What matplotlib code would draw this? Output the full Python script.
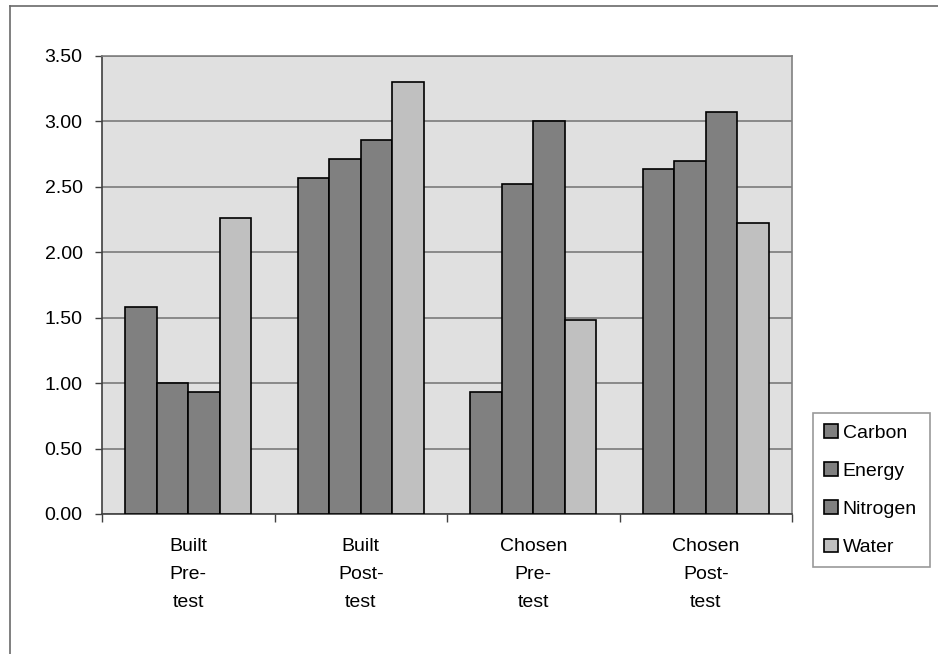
import matplotlib.pyplot as plt
import numpy as np

plt.rcParams['font.family'] = ['Liberation Sans', 'DejaVu Sans']

groups = ["Built\nPre-\ntest", "Built\nPost-\ntest", "Chosen\nPre-\ntest", "Chosen\nPost-\ntest"]
series = ["Carbon", "Energy", "Nitrogen", "Water"]
carbon = [1.58, 2.57, 0.93, 2.64]
energy = [1.00, 2.71, 2.52, 2.70]
nitrogen = [0.93, 2.86, 3.00, 3.07]
water = [2.26, 3.30, 1.48, 2.22]
yticks = [0.0, 0.5, 1.0, 1.5, 2.0, 2.5, 3.0, 3.5]

colors = ['#808080', '#808080', '#808080', '#c0c0c0']
fs = 14

fig = plt.figure(figsize=(9.38, 6.54), dpi=100)
# outer chart frame (only top and left edge visible)
fig.add_artist(plt.Line2D([10/938, 10/938], [0, 1-6/654], color='#6a6a6a', lw=1.2))
fig.add_artist(plt.Line2D([10/938, 1], [1-6/654, 1-6/654], color='#6a6a6a', lw=1.2))

ax = fig.add_axes([102/938, 140/654, 690/938, 458/654])
ax.set_facecolor('#e0e0e0')

x = np.arange(len(groups)) + 0.5
w = 0.182
for i, (name, vals) in enumerate(zip(series, [carbon, energy, nitrogen, water])):
    ax.bar(x + (i - 1.5) * w, vals, w, color=colors[i], edgecolor='black',
           linewidth=1.2, label=name, zorder=3)

ax.set_xlim(0, 4)
ax.set_ylim(0, 3.5)
ax.set_yticks(yticks)
ax.set_yticklabels(["%.2f" % t for t in yticks], fontsize=fs)
ax.yaxis.grid(True, color='#7a7a7a', linewidth=1.2, zorder=1)
ax.set_axisbelow(True)

ax.set_xticks([0, 1, 2, 3, 4])
ax.set_xticklabels([])
ax.set_xticks(x, minor=True)
ax.set_xticklabels(groups, minor=True, fontsize=fs, linespacing=1.88, va='top')
ax.tick_params(axis='x', which='minor', length=0, pad=17)
ax.tick_params(axis='x', which='major', length=6, width=1, color='#404040', direction='out')
ax.tick_params(axis='y', length=5, width=1, color='#404040', direction='out', pad=9)

for s in ['left', 'bottom']:
    ax.spines[s].set_color('#404040')
    ax.spines[s].set_linewidth(1.2)
for s in ['top', 'right']:
    ax.spines[s].set_color('#808080')
    ax.spines[s].set_linewidth(1.2)

leg = ax.legend(loc='lower left', bbox_to_anchor=(813/938, (654-567)/654, 117/938, 154/654),
                bbox_transform=fig.transFigure, mode='expand', fontsize=fs, frameon=True,
                fancybox=False, handlelength=0.72, handleheight=0.72, handletextpad=0.25,
                labelspacing=1.05, borderaxespad=0, borderpad=0.55)
leg.get_frame().set_edgecolor('#808080')
leg.get_frame().set_linewidth(1.2)

fig.savefig('out.png', dpi=100)
